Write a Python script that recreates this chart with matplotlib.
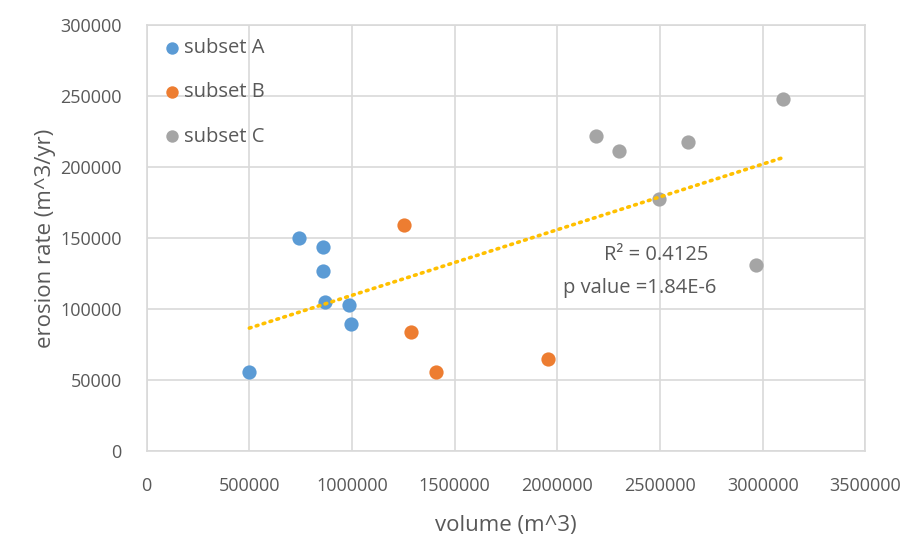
import numpy as np
import matplotlib
matplotlib.use("Agg")
import matplotlib.pyplot as plt

# volume (m^3) and erosion rate (m^3/yr) for each subset
vol_a = [500000, 740000, 860000, 860000, 870000, 985000, 995000]
rate_a = [56000, 150000, 143500, 127000, 105000, 103000, 89500]

vol_b = [1255000, 1285000, 1410000, 1955000]
rate_b = [159000, 84000, 56000, 65000]

vol_c = [2190000, 2300000, 2495000, 2635000, 2965000, 3100000]
rate_c = [222000, 211000, 177500, 218000, 131000, 248000]

x_ticks = [0, 500000, 1000000, 1500000, 2000000, 2500000, 3000000, 3500000]
y_ticks = [0, 50000, 100000, 150000, 200000, 250000, 300000]

r2_text = "R² = 0.4125"
p_text = "p value =1.84E-6"

plt.rcParams['font.family'] = ['Open Sans', 'DejaVu Sans']
text_col = '#595959'
grid_col = '#D9D9D9'

fig = plt.figure(figsize=(9.11, 5.35), dpi=100)
ax = fig.add_axes([0.161, 0.157, 0.789, 0.796])

ms = 105
ax.scatter(vol_a, rate_a, s=ms, color='#5B9BD5', label='subset A', zorder=3, linewidths=0)
ax.scatter(vol_b, rate_b, s=ms, color='#ED7D31', label='subset B', zorder=3, linewidths=0)
ax.scatter(vol_c, rate_c, s=ms, color='#A5A5A5', label='subset C', zorder=3, linewidths=0)

# linear trend over all points
all_x = np.array(vol_a + vol_b + vol_c, dtype=float)
all_y = np.array(rate_a + rate_b + rate_c, dtype=float)
k, b = np.polyfit(all_x, all_y, 1)
tx = np.array([all_x.min(), all_x.max()])
ax.plot(tx, k * tx + b, color='#FFC000', lw=2.6, linestyle=(0, (0.5, 1.5)),
        dash_capstyle='round', zorder=4)

ax.text(2480000, 138000, r2_text, ha='center', va='center', fontsize=14.5, color=text_col)
ax.text(2400000, 115000, p_text, ha='center', va='center', fontsize=14.5, color=text_col)

ax.set_xlim(0, 3500000)
ax.set_ylim(0, 300000)
ax.set_xticks(x_ticks)
ax.set_yticks(y_ticks)
ax.set_xticklabels([str(v) for v in x_ticks])
ax.set_yticklabels([str(v) for v in y_ticks])
ax.tick_params(axis='both', length=0, labelsize=13, labelcolor=text_col)
ax.tick_params(axis='x', pad=19)
ax.tick_params(axis='y', pad=18)
ax.grid(True, color=grid_col, lw=1.2)
ax.set_axisbelow(True)
for s in ax.spines.values():
    s.set_color(grid_col)
    s.set_linewidth(1.2)

ax.set_xlabel('volume (m^3)', fontsize=16, color=text_col, labelpad=14)
ax.set_ylabel('erosion rate (m^3/yr)', fontsize=16, color=text_col, labelpad=3)

leg = ax.legend(loc='upper left', frameon=False, fontsize=14.5, labelcolor=text_col,
                handletextpad=0.0, labelspacing=1.2, borderaxespad=0.25,
                handlelength=1.2, bbox_to_anchor=(0.0, 1.0))
for h in leg.legend_handles:
    h.set_sizes([80])

fig.savefig('out.png', dpi=100)
